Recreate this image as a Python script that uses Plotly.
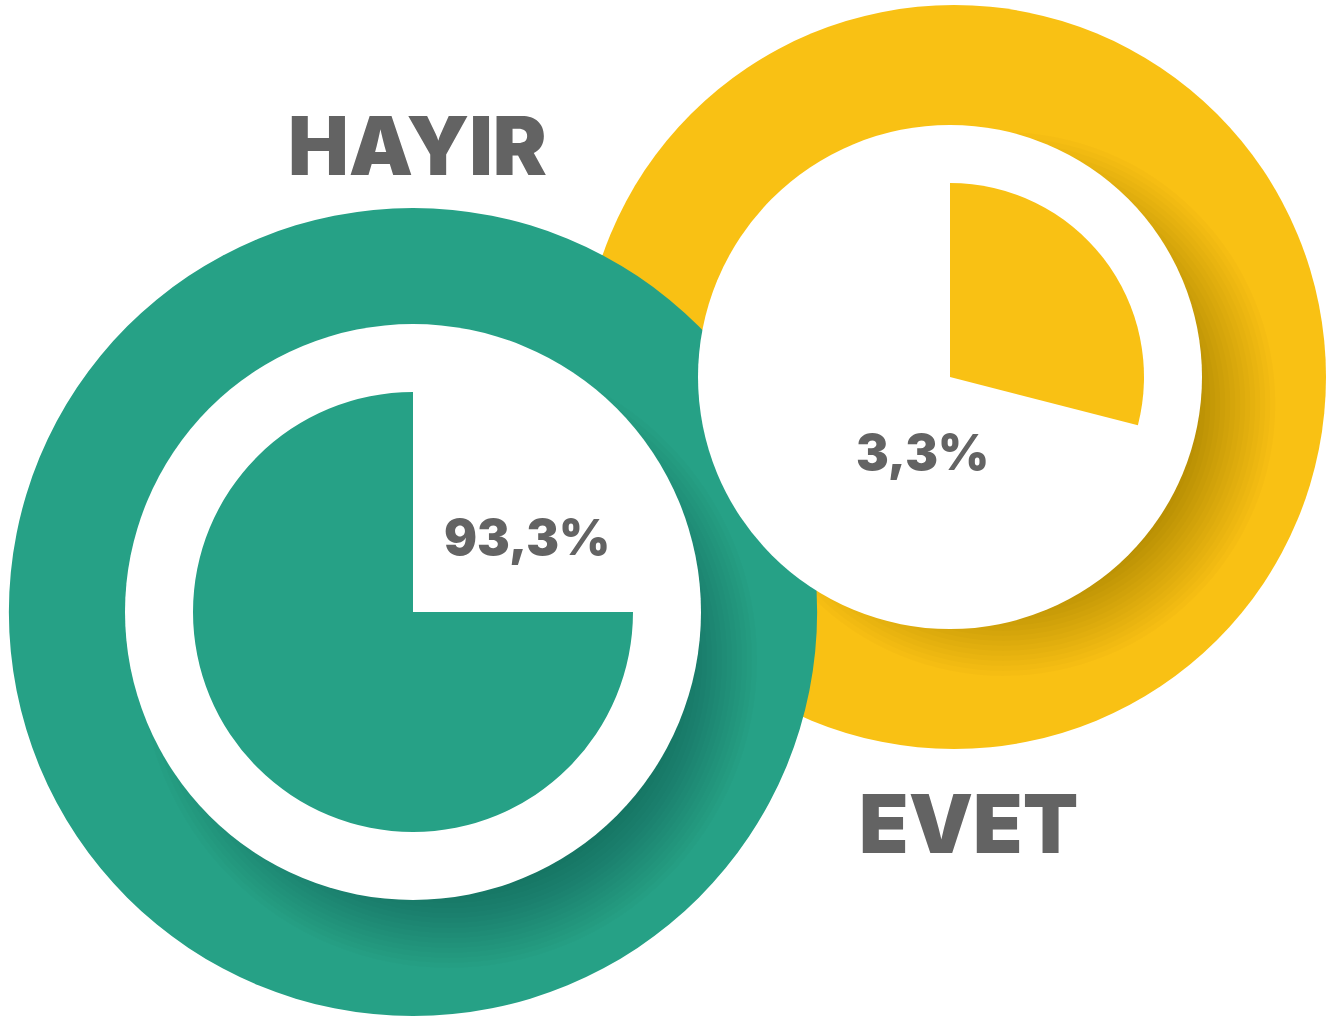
import plotly.graph_objects as go

W, H = 1328, 1020

# answers and their printed percentages
answers = ["HAYIR", "EVET"]
percent_labels = ["93,3%", "3,3%"]
# share of the inner pie that is filled, as drawn in the picture
wedge_share = [75, 29]
colors = ["#26a186", "#f9c114"]

# geometry of each badge in pixels: centre, outer ring, white hole, inner pie
centers = [(413, 612), (950, 377)]
ring_centers = [(413, 612), (954, 377)]
ring_r = [404, 372]
hole_r = [288, 252]
pie_r = [220, 194]
shadow_dir = [(0.6, 0.8), (0.89, 0.45)]


def domain(cx, cy, r):
    return dict(x=[(cx - r) / W, (cx + r) / W], y=[1 - (cy + r) / H, 1 - (cy - r) / H])


def disc(cx, cy, r, color):
    return go.Pie(values=[1], labels=[""], domain=domain(cx, cy, r), marker=dict(colors=[color], line=dict(width=0)),
                  textinfo="none", hoverinfo="skip", sort=False, showlegend=False)


fig = go.Figure()

# rings with a soft inner shadow (yellow first, green on top of it)
for i in [1, 0]:
    cx, cy = centers[i]
    fig.add_trace(disc(ring_centers[i][0], ring_centers[i][1], ring_r[i], colors[i]))
    off = 60
    sx, sy = cx + shadow_dir[i][0] * off, cy + shadow_dir[i][1] * off
    for k in range(16):
        fig.add_trace(disc(sx, sy, hole_r[i] - off + 5 + 5 * k, "rgba(0,0,0,0.016)"))

# white holes: green one first, then the yellow one which cuts the green ring
for i in [0, 1]:
    cx, cy = centers[i]
    fig.add_trace(disc(cx, cy, hole_r[i], "white"))

# inner pies: the empty part comes first, then the coloured wedge
for i in [0, 1]:
    cx, cy = centers[i]
    if i == 0:
        vals = [100 - wedge_share[i], wedge_share[i]]
        cols = ["rgba(0,0,0,0)", colors[i]]
    else:
        vals = [wedge_share[i], 100 - wedge_share[i]]
        cols = [colors[i], "rgba(0,0,0,0)"]
    fig.add_trace(go.Pie(values=vals, labels=["a", "b"],
                         domain=domain(cx, cy, pie_r[i]), direction="clockwise", sort=False, rotation=0,
                         marker=dict(colors=cols, line=dict(width=0)),
                         textinfo="none", hoverinfo="skip", showlegend=False))

txt = "#636363"
font = "Inter, Lato, sans-serif"
name_pos = [(418, 146), (968, 824)]
pct_pos = [(527, 537), (922, 452)]
for i in range(2):
    fig.add_annotation(x=name_pos[i][0] / W, y=1 - name_pos[i][1] / H, xref="paper", yref="paper",
                       text=answers[i], showarrow=False, xanchor="center", yanchor="middle",
                       font=dict(family=font, size=81, color=txt, weight=900))
    fig.add_annotation(x=pct_pos[i][0] / W, y=1 - pct_pos[i][1] / H, xref="paper", yref="paper",
                       text=percent_labels[i], showarrow=False, xanchor="center", yanchor="middle",
                       font=dict(family=font, size=49, color=txt, weight=900))

fig.update_layout(width=W, height=H, margin=dict(l=0, r=0, t=0, b=0),
                  paper_bgcolor="white", plot_bgcolor="white", showlegend=False)

fig.write_html("out.html", config={"displayModeBar": False},
               post_script="document.body.style.margin='0';")
